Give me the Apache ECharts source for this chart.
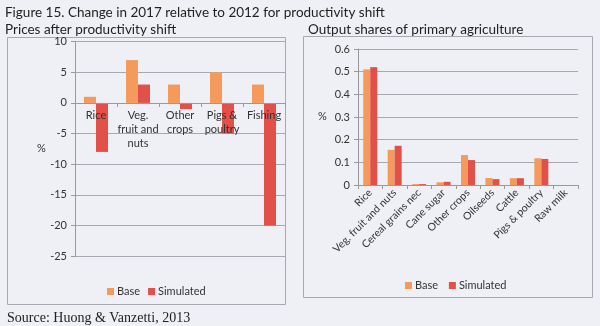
<!DOCTYPE html>
<html><head><meta charset="utf-8">
<script src="https://cdn.jsdelivr.net/npm/echarts@6/dist/echarts.min.js"></script>
<style>html,body{margin:0;padding:0;background:#efeff6;}#c{width:600px;height:326px;}</style>
</head><body><div id="c"></div>
<script>
var priceCats = ['Rice', 'Veg.\nfruit and\nnuts', 'Other\ncrops', 'Pigs &\npoultry', 'Fishing'];
var priceBase = [1, 7, 3, 5, 3];
var priceSim = [-8, 3, -1, -5, -20];
var priceTicks = [-25, 10, 5];

var shareCats = ['Rice', 'Veg. fruit and nuts', 'Cereal grains nec', 'Cane sugar', 'Other crops', 'Oilseeds', 'Cattle', 'Pigs & poultry', 'Raw milk'];
var shareBase = [0.51, 0.155, 0.004, 0.012, 0.132, 0.031, 0.03, 0.118, 0];
var shareSim = [0.52, 0.173, 0.004, 0.014, 0.11, 0.026, 0.03, 0.115, 0];
var shareTicks = [0, 0.6, 0.1];

var cBase = '#f49a5c', cSim = '#e2504a';
var font = 'Lato, "Open Sans", sans-serif';
var chart = echarts.init(document.getElementById('c'), null, {renderer: 'canvas'});
var axisTxt = {color: '#333', fontSize: 11, fontFamily: font};
// left grid geometry
var gTop = 41.7, gBottomPx = 256;
var zeroOffset = -(gBottomPx - gTop) * (0 - priceTicks[0]) / (priceTicks[1] - priceTicks[0]);
chart.setOption({
  backgroundColor: '#efeff6',
  animation: false,
  title: [
    {text: 'Figure 15. Change in 2017 relative to 2012 for productivity shift', left: 0, top: 1, textStyle: {fontSize: 13.5, fontWeight: 'normal', color: '#222', fontFamily: font}},
    {text: 'Prices after productivity shift', left: 0, top: 18, textStyle: {fontSize: 13.5, fontWeight: 'normal', color: '#222', fontFamily: font}},
    {text: 'Output shares of primary agriculture', left: 303, top: 18, textStyle: {fontSize: 13.5, fontWeight: 'normal', color: '#222', fontFamily: font}},
    {text: 'Source: Huong & Vanzetti, 2013', left: 2, top: 306, textStyle: {fontSize: 14, fontWeight: 'normal', color: '#222', fontFamily: '"Liberation Serif", serif'}}
  ],
  graphic: [
    {type: 'rect', shape: {x: 7.5, y: 37.5, width: 278, height: 267}, style: {fill: 'none', stroke: '#a8a8b0', lineWidth: 1}, z: -1},
    {type: 'rect', shape: {x: 303.5, y: 36.5, width: 289, height: 261}, style: {fill: 'none', stroke: '#a8a8b0', lineWidth: 1}, z: -1},
    {type: 'text', left: 37, top: 143, style: {text: '%', fontSize: 11, fill: '#333', fontFamily: font}},
    {type: 'text', left: 318, top: 111, style: {text: '%', fontSize: 11, fill: '#333', fontFamily: font}}
  ],
  legend: [
    {data: ['Base', 'Simulated'], left: 102, top: 281, itemWidth: 7, itemHeight: 7, itemGap: 8, icon: 'rect', textStyle: {fontSize: 11, color: '#333', fontFamily: font, padding: [0,0,0,-2]}},
    {data: ['Base ', 'Simulated '], left: 400, top: 275, itemWidth: 7, itemHeight: 7, itemGap: 8, icon: 'rect', textStyle: {fontSize: 11, color: '#333', fontFamily: font, padding: [0,0,0,-2]}}
  ],
  grid: [
    {left: 75, right: 315, top: gTop, bottom: 326 - gBottomPx},
    {left: 358, right: 22, top: 49, bottom: 141}
  ],
  xAxis: [
    {type: 'category', gridIndex: 0, data: priceCats, position: 'bottom', offset: zeroOffset, z: 5,
     axisLine: {onZero: false, lineStyle: {color: '#999'}}, axisTick: {show: true, length: 4, lineStyle: {color: '#999'}},
     axisLabel: Object.assign({margin: 6, lineHeight: 14, interval: 0}, axisTxt)},
    {type: 'category', gridIndex: 1, data: shareCats,
     axisLine: {lineStyle: {color: '#999'}}, axisTick: {show: true, length: 4, lineStyle: {color: '#999'}},
     axisLabel: Object.assign({margin: 6, rotate: 45, interval: 0}, axisTxt, {fontSize: 10.5})}
  ],
  yAxis: [
    {type: 'value', gridIndex: 0, min: priceTicks[0], max: priceTicks[1], interval: priceTicks[2],
     axisLine: {show: true, lineStyle: {color: '#999'}}, axisTick: {show: true, length: 4, lineStyle: {color: '#999'}},
     splitLine: {lineStyle: {color: '#a8a8b0'}}, axisLabel: Object.assign({margin: 8}, axisTxt)},
    {type: 'value', gridIndex: 1, min: shareTicks[0], max: shareTicks[1], interval: shareTicks[2],
     axisLine: {show: true, lineStyle: {color: '#999'}}, axisTick: {show: true, length: 4, lineStyle: {color: '#999'}},
     splitLine: {lineStyle: {color: '#a8a8b0'}}, axisLabel: Object.assign({margin: 8, formatter: function(v){return v===0?'0':v.toFixed(1);}}, axisTxt)}
  ],
  series: [
    {name: 'Base', type: 'bar', xAxisIndex: 0, yAxisIndex: 0, data: priceBase, barWidth: 12, barGap: '0%', itemStyle: {color: cBase}},
    {name: 'Simulated', type: 'bar', xAxisIndex: 0, yAxisIndex: 0, data: priceSim, barWidth: 12, barGap: '0%', itemStyle: {color: cSim}},
    {name: 'Base ', type: 'bar', xAxisIndex: 1, yAxisIndex: 1, data: shareBase, barWidth: 7, barGap: '0%', itemStyle: {color: cBase}},
    {name: 'Simulated ', type: 'bar', xAxisIndex: 1, yAxisIndex: 1, data: shareSim, barWidth: 7, barGap: '0%', itemStyle: {color: cSim}}
  ]
});
</script></body></html>
